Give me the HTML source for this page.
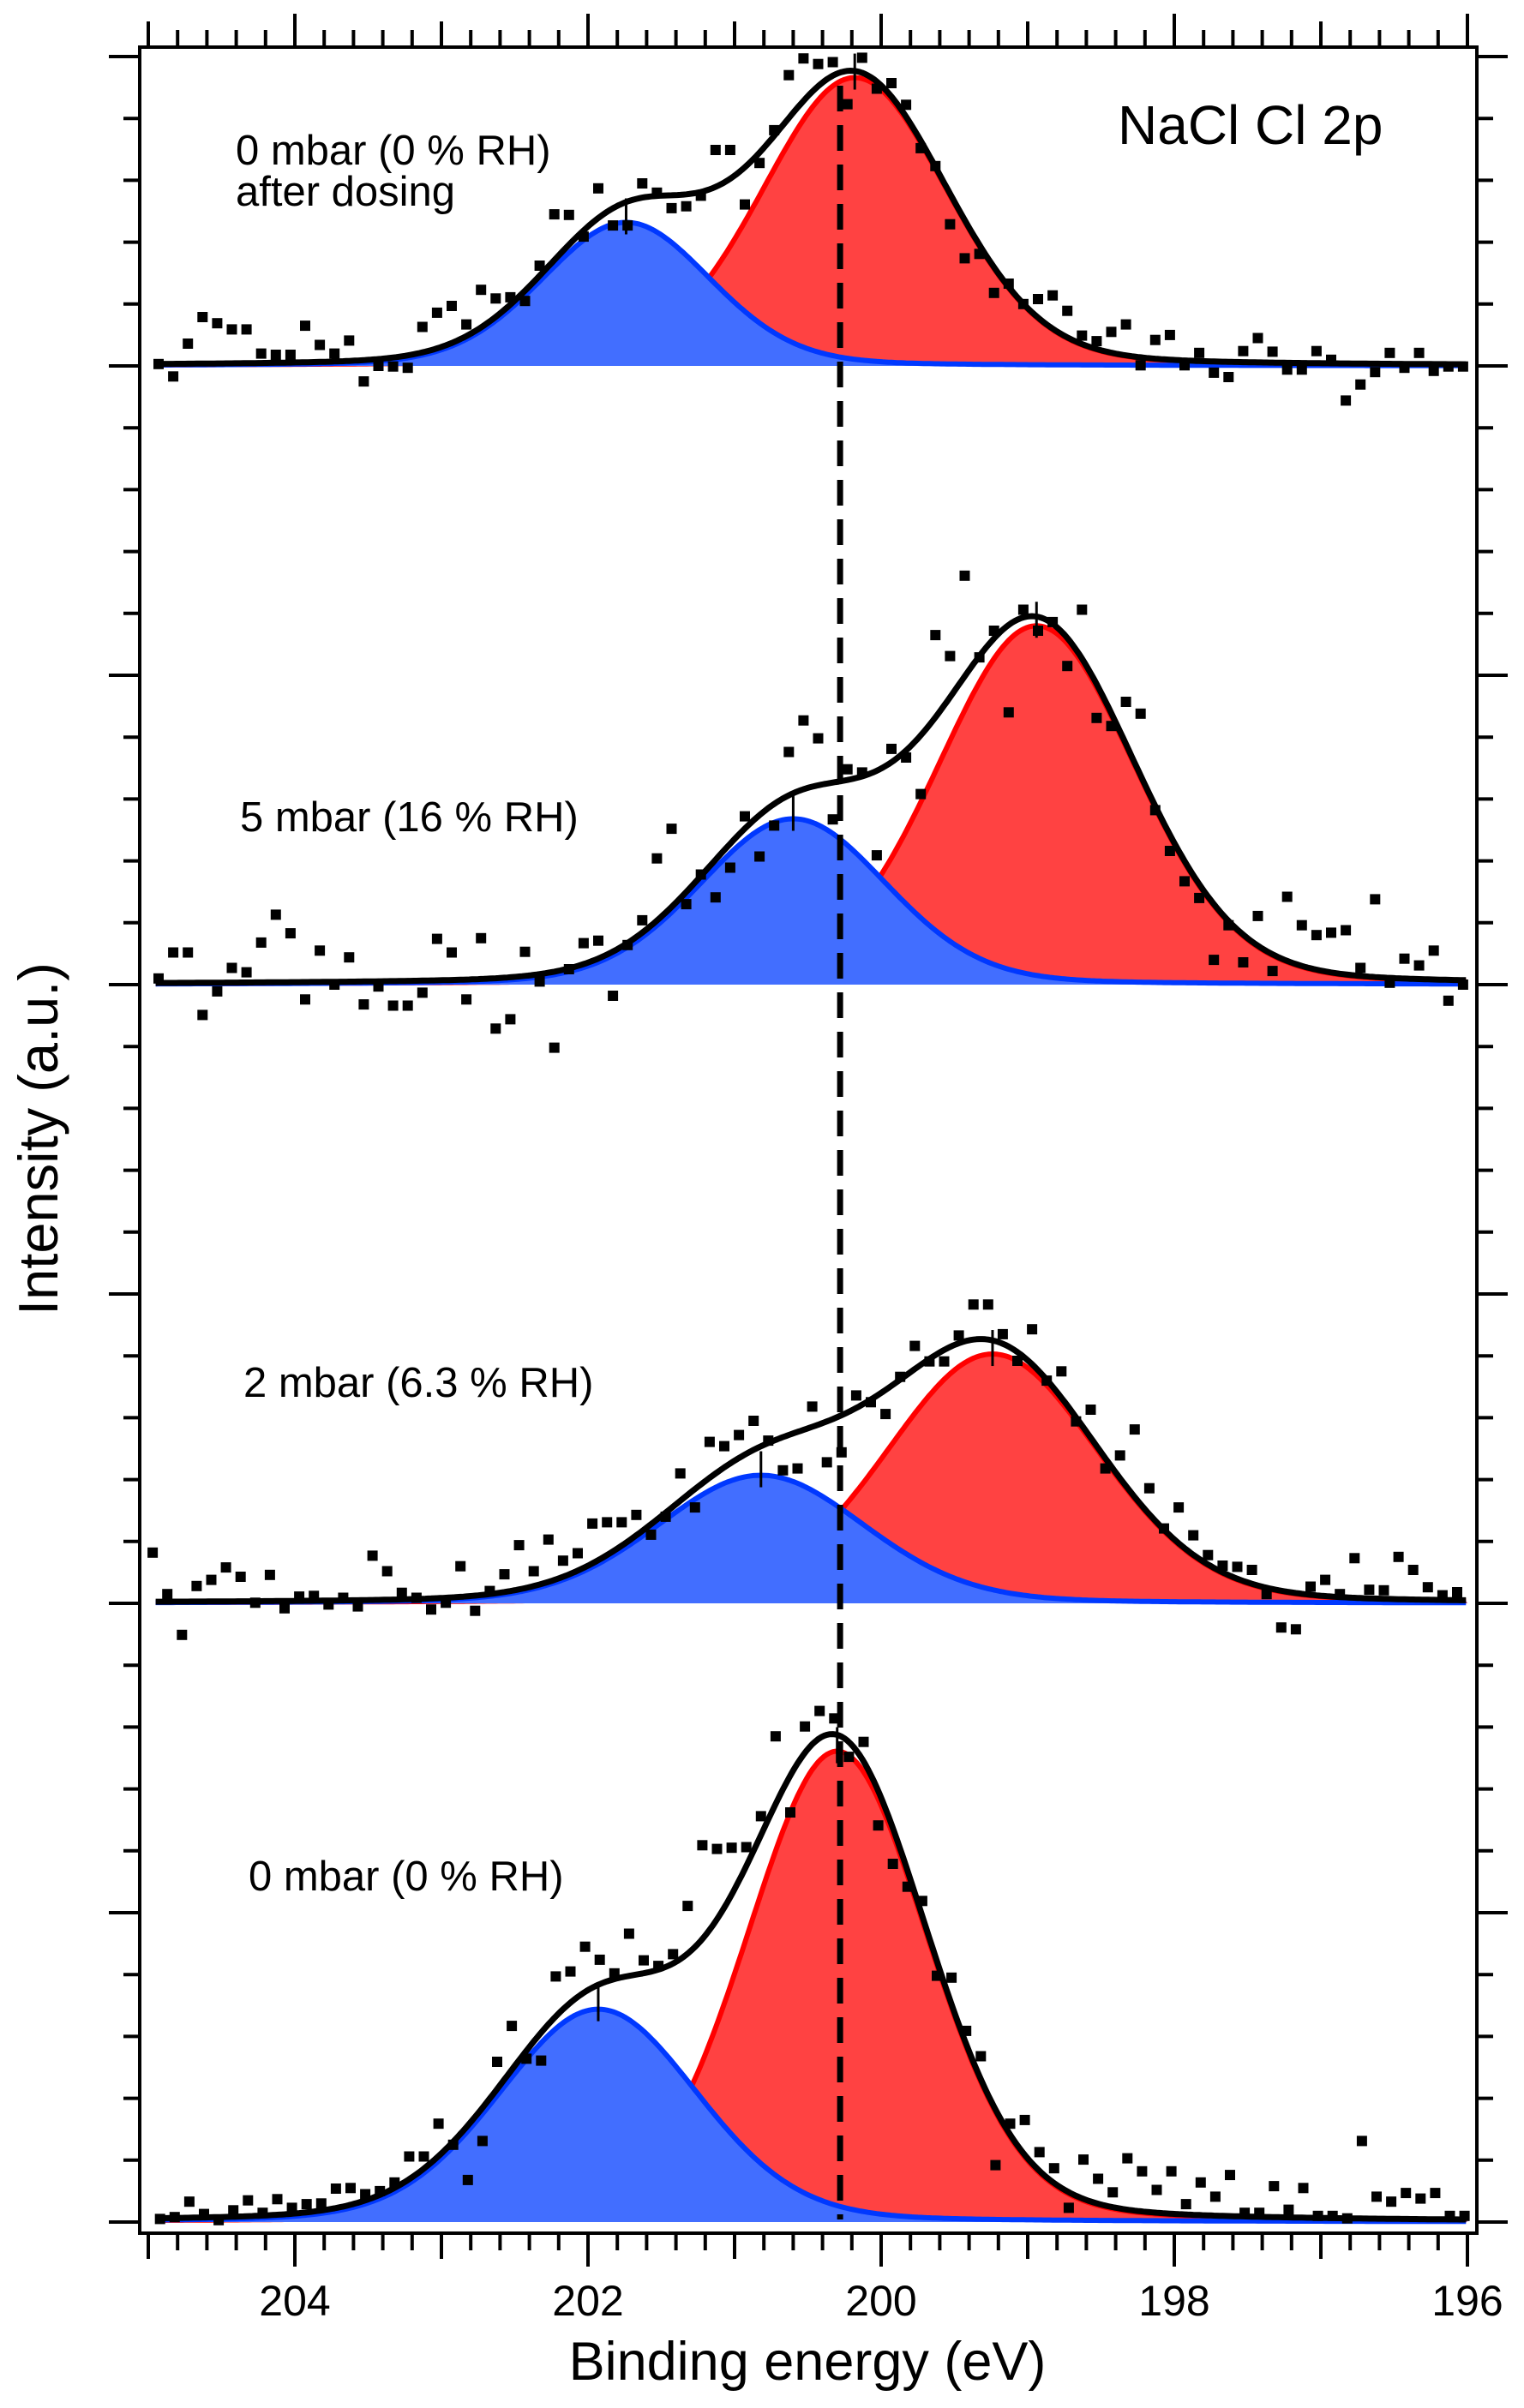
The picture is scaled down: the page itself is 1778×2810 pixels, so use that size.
<!DOCTYPE html>
<html><head><meta charset="utf-8"><style>
html,body{margin:0;padding:0;background:#fff;}
svg{display:block;font-family:"Liberation Sans",Arial,sans-serif;}
</style></head><body>
<svg id="chart" width="1778" height="2810" viewBox="0 0 1778 2810" xmlns="http://www.w3.org/2000/svg">
<rect x="0" y="0" width="1778" height="2810" fill="#fff"/>
<g id="fills"></g>
<g id="lines"></g>
<g id="pts"></g>
<g id="axes"></g>
<text x="1304" y="168" font-size="64">NaCl Cl 2p</text>
<text x="275" y="192" font-size="49">0 mbar (0 % RH)</text>
<text x="275" y="240" font-size="49">after dosing</text>
<text x="280" y="970" font-size="49">5 mbar (16 % RH)</text>
<text x="284" y="1630" font-size="49">2 mbar (6.3 % RH)</text>
<text x="290" y="2206" font-size="49">0 mbar (0 % RH)</text>
<text x="942" y="2777" font-size="63" text-anchor="middle">Binding energy (eV)</text>
<text transform="translate(67,1329) rotate(-90)" font-size="65" text-anchor="middle">Intensity (a.u.)</text>
</svg>
<script>
// ---- data ----
const xTickLabels = [204, 202, 200, 198, 196];
const panelNames = ["0mbar-after-dosing", "5mbar", "2mbar", "0mbar"];
const panelBaseTick = [5, 15, 25, 35];
const energyStart = [204.93, 204.93, 204.97, 204.92];
const energyStep = 0.1;
const dashEnergy = 200.28;
// fit parameters: [center eV, height, fwhm]
const redPeak = [[200.18, 4.66, 1.50], [198.94, 5.80, 1.60], [199.24, 4.03, 1.72], [200.30, 7.61, 1.46]];
const bluePeak = [[201.74, 2.32, 1.36], [200.60, 2.68, 1.51], [200.82, 2.07, 1.68], [201.93, 3.44, 1.60]];
const lorentzMix = 0.15;
const counts1 = [0.03,-0.17,0.36,0.79,0.69,0.59,0.59,0.2,0.18,0.18,0.65,0.34,0.2,0.41,-0.25,0.0,-0.01,-0.03,0.63,0.86,0.97,0.67,1.23,1.09,1.11,1.05,1.62,2.45,2.44,2.09,2.87,2.27,2.27,2.95,2.8,2.55,2.58,2.75,3.49,3.49,2.61,3.28,3.81,4.7,4.97,4.88,4.91,4.23,4.98,4.48,4.57,4.22,3.52,3.23,2.29,1.74,1.81,1.18,1.33,1.0,1.08,1.14,0.89,0.49,0.4,0.55,0.67,0.01,0.42,0.5,0.01,0.21,-0.11,-0.18,0.24,0.45,0.23,-0.06,-0.06,0.24,0.1,-0.56,-0.3,-0.1,0.21,-0.03,0.21,-0.08,-0.01,-0.01];
const counts2 = [0.1,0.52,0.52,-0.49,-0.11,0.27,0.2,0.68,1.13,0.83,-0.24,0.55,0.0,0.44,-0.32,-0.03,-0.34,-0.34,-0.13,0.74,0.52,-0.24,0.75,-0.71,-0.56,0.53,0.05,-1.02,0.25,0.67,0.71,-0.18,0.64,1.04,2.04,2.52,1.30,1.78,1.41,1.89,2.72,2.07,2.57,3.76,4.27,3.98,2.67,3.48,3.43,2.09,3.81,3.67,3.08,5.65,5.31,6.61,5.29,5.72,4.4,6.06,5.72,5.86,5.15,6.06,4.31,4.18,4.57,4.38,2.82,2.16,1.67,1.40,0.40,0.96,0.36,1.11,0.22,1.42,0.96,0.80,0.84,0.88,0.27,1.38,0.03,0.42,0.31,0.55,-0.26,0.0];
const counts3 = [0.82,0.15,-0.51,0.28,0.38,0.58,0.43,0.01,0.46,-0.08,0.11,0.12,-0.02,0.09,-0.05,0.77,0.52,0.17,0.09,-0.1,0.01,0.6,-0.12,0.2,0.47,0.94,0.52,1.03,0.69,0.81,1.29,1.31,1.31,1.43,1.11,1.4,2.1,1.55,2.61,2.54,2.72,2.95,2.63,2.15,2.18,3.18,2.28,2.44,3.36,3.25,3.06,3.66,4.16,3.91,3.91,4.33,4.83,4.83,4.35,3.92,4.43,3.6,3.75,2.94,3.13,2.18,2.39,2.81,1.86,1.21,1.55,1.1,0.78,0.61,0.59,0.54,0.15,-0.39,-0.42,0.27,0.38,0.15,0.73,0.22,0.21,0.75,0.54,0.26,0.13,0.18];
const counts4 = [0.05,0.08,0.33,0.13,0.03,0.19,0.35,0.15,0.37,0.23,0.29,0.3,0.54,0.55,0.45,0.5,0.64,1.06,1.06,1.59,1.25,0.68,1.31,2.59,3.17,2.64,2.61,3.97,4.05,4.45,4.24,4.02,4.66,4.23,4.14,4.33,5.11,6.09,6.03,6.05,6.06,6.56,7.85,6.62,8.01,8.26,8.14,7.52,7.76,6.41,5.79,5.42,5.19,3.98,3.95,3.09,2.68,0.92,1.59,1.65,1.13,0.87,0.23,1.01,0.7,0.48,1.03,0.82,0.52,0.82,0.29,0.64,0.41,0.76,0.15,0.15,0.58,0.2,0.55,0.1,0.1,0.06,1.31,0.41,0.33,0.47,0.38,0.47,0.1,0.1];
const allCounts = [counts1, counts2, counts3, counts4];

// ---- geometry ----
const NS = "http://www.w3.org/2000/svg";
const L = 163, R = 1723, T = 55, B = 2606;
const tickY0 = 66, tickStep = 72.2;
function xOf(E) { return 344 + (204 - E) * 171.0; }
function baseOf(p) { return tickY0 + panelBaseTick[p] * tickStep; }
function yOf(p, v) { return baseOf(p) - v * tickStep; }
function pv(E, pk) {
  const d = (E - pk[0]) / pk[2];
  return pk[1] * ((1 - lorentzMix) * Math.exp(-4 * Math.LN2 * d * d) + lorentzMix / (1 + 4 * d * d));
}
function mk(tag, attrs, parent) {
  const e = document.createElementNS(NS, tag);
  for (const k in attrs) e.setAttribute(k, attrs[k]);
  parent.appendChild(e);
  return e;
}
const gF = document.getElementById('fills'), gL = document.getElementById('lines'),
      gP = document.getElementById('pts'), gA = document.getElementById('axes');
const E1 = 204.95, E2 = 196.0;
const sampleE = [];
for (let E = E1; E >= E2 - 1e-9; E -= 0.02) sampleE.push(E);

for (let p = 0; p < 4; p++) {
  const base = baseOf(p);
  const comps = [[redPeak[p], '#ff4242', '#ff0000', 'red'], [bluePeak[p], '#426eff', '#0038ff', 'blue']];
  comps.forEach(c => {
    let d = 'M' + xOf(E1) + ',' + base;
    let dl = '';
    sampleE.forEach((E, i) => {
      const pt = xOf(E).toFixed(1) + ',' + yOf(p, pv(E, c[0])).toFixed(1);
      d += 'L' + pt; dl += (i ? 'L' : 'M') + pt;
    });
    d += 'L' + xOf(E2) + ',' + base + 'Z';
    const f = mk('path', {d: d, fill: c[1], stroke: 'none'}, gF);
    
    
    const l = mk('path', {d: dl, fill: 'none', stroke: c[2], 'stroke-width': 6, 'stroke-linejoin': 'round'}, gF);
    
    
    const cx = xOf(c[0][0]), cy = yOf(p, c[0][1]);
    const m = mk('line', {x1: cx, x2: cx, y1: cy - 28, y2: cy + 14, stroke: '#000', 'stroke-width': 3}, gL);
    
    
  });
  let ds = '';
  sampleE.forEach((E, i) => {
    ds += (i ? 'L' : 'M') + xOf(E).toFixed(1) + ',' + yOf(p, pv(E, redPeak[p]) + pv(E, bluePeak[p])).toFixed(1);
  });
  const s = mk('path', {d: ds, fill: 'none', stroke: '#000', 'stroke-width': 7, 'stroke-linejoin': 'round'}, gL);
  
  
  allCounts[p].forEach((v, k) => {
    const E = energyStart[p] - k * energyStep;
    const r = mk('rect', {x: (xOf(E) - 6).toFixed(1), y: (yOf(p, v) - 6).toFixed(1), width: 12, height: 12, fill: '#000'}, gP);
    
    
  });
}
// dashed reference line
const dl = mk('line', {x1: xOf(dashEnergy), x2: xOf(dashEnergy), y1: 100, y2: 2590, stroke: '#000', 'stroke-width': 7, 'stroke-dasharray': '30,16'}, gL);



// frame
const fr = mk('rect', {x: L, y: T, width: R - L, height: B - T, fill: 'none', stroke: '#000', 'stroke-width': 4}, gA);


// x ticks (every 0.2 eV)
for (let i = 0; i <= 45; i++) {
  const E = 205 - i * 0.2;
  const x = xOf(E);
  const ei = Math.round(E * 10);
  let len = 20;
  if (ei % 10 === 0) len = (ei / 10) % 2 === 0 ? 39 : 30;
  const t1 = mk('line', {x1: x, x2: x, y1: B, y2: B + len, stroke: '#000', 'stroke-width': 4}, gA);
  
  
  const t2 = mk('line', {x1: x, x2: x, y1: T, y2: T - len, stroke: '#000', 'stroke-width': 4}, gA);
  
  
}
xTickLabels.forEach(v => {
  const t = mk('text', {x: xOf(v), y: 2702, 'font-size': 50, 'text-anchor': 'middle'}, gA);
  t.textContent = v;
  
  
});
// y ticks
for (let j = 0; j <= 35; j++) {
  const y = tickY0 + j * tickStep;
  const len = j % 5 === 0 ? 36 : 19;
  const a = mk('line', {x1: L, x2: L - len, y1: y, y2: y, stroke: '#000', 'stroke-width': 4}, gA);
  
  
  const b = mk('line', {x1: R, x2: R + len, y1: y, y2: y, stroke: '#000', 'stroke-width': 4}, gA);
  
  
}
</script>
</body></html>
